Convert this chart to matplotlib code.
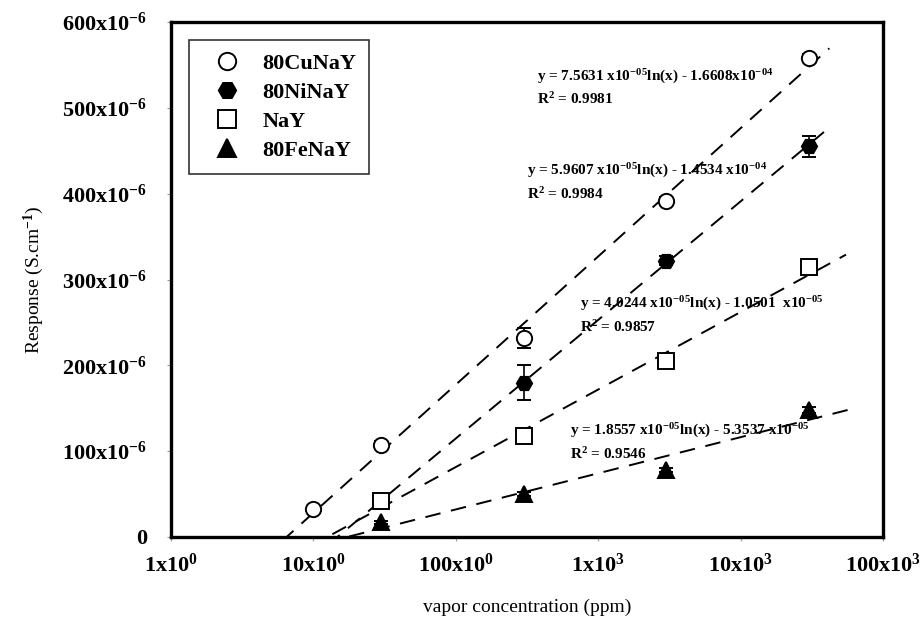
import matplotlib
matplotlib.use("Agg")
import matplotlib.pyplot as plt
from matplotlib.lines import Line2D
import numpy as np

# response values in units of 1e-6 S/cm
CU_CONC = [10, 30, 300, 3000, 30000]
CU_RESPONSE = [33, 107, 232, 392, 558]
CU_ERROR = [3, 5, 12, 4, 5]

NI_CONC = [30, 300, 3000, 30000]
NI_RESPONSE = [42, 180, 322, 455]
NI_ERROR = [3, 20, 5, 12]

NAY_CONC = [30, 300, 3000, 30000]
NAY_RESPONSE = [42, 118, 205, 314]
NAY_ERROR = [3, 4, 4, 5]

FE_CONC = [30, 300, 3000, 30000]
FE_RESPONSE = [17, 50, 78, 148]
FE_ERROR = [2, 2, 2, 3]

LABELS = ["80CuNaY", "80NiNaY", "NaY", "80FeNaY"]
EQUATIONS = [
    "y = 7.5631 x10$^{-05}$ln(x) - 1.6608x10$^{-04}$\nR$^{2}$ = 0.9981",
    "y = 5.9607 x10$^{-05}$ln(x) - 1.4534 x10$^{-04}$\nR$^{2}$ = 0.9984",
    "y = 4.0244 x10$^{-05}$ln(x) - 1.0501  x10$^{-05}$\nR$^{2}$ = 0.9857",
    "y = 1.8557 x10$^{-05}$ln(x) - 5.3537 x10$^{-05}$\nR$^{2}$ = 0.9546",
]
X_TICKS = [1, 10, 100, 1000, 10000, 100000]
X_TICK_LABELS = ["1x10$^{0}$", "10x10$^{0}$", "100x10$^{0}$",
                 "1x10$^{3}$", "10x10$^{3}$", "100x10$^{3}$"]
Y_TICKS = [0, 100, 200, 300, 400, 500, 600]
Y_TICK_LABELS = ["0"] + [f"{v}x10$^{{-6}}$" for v in Y_TICKS[1:]]

plt.rcParams["font.family"] = "Liberation Serif"
plt.rcParams["font.weight"] = "bold"
plt.rcParams["mathtext.fontset"] = "custom"
plt.rcParams["mathtext.rm"] = "Liberation Serif:bold"
plt.rcParams["mathtext.it"] = "Liberation Serif:italic:bold"
plt.rcParams["mathtext.bf"] = "Liberation Serif:bold"

fig = plt.figure(figsize=(9.21, 6.28), dpi=100)
ax = fig.add_axes([171 / 921, 1 - 537 / 628, 712 / 921, 515 / 628])
ax.set_xscale("log")
ax.set_xlim(1, 100000)
ax.set_ylim(0, 600)

series = [
    (CU_CONC, CU_RESPONSE, CU_ERROR, "o", "white", 4.2e4),
    (NI_CONC, NI_RESPONSE, NI_ERROR, "H", "black", 4.3e4),
    (NAY_CONC, NAY_RESPONSE, NAY_ERROR, "s", "white", 5.5e4),
    (FE_CONC, FE_RESPONSE, FE_ERROR, "^", "black", 6.0e4),
]

handles = []
for (conc, resp, err, marker, face, end), label in zip(series, LABELS):
    conc = np.array(conc, dtype=float)
    resp = np.array(resp, dtype=float)
    slope, intercept = np.polyfit(np.log(conc), resp, 1)
    xs = np.logspace(0, np.log10(end), 200)
    ax.plot(xs, slope * np.log(xs) + intercept, color="black", lw=1.4,
            dashes=(8, 5.5), zorder=2)
    ax.errorbar(conc, resp, yerr=err, fmt=marker, mfc=face, mec="black",
                mew=1.4, ms=11, ecolor="black", elinewidth=1.2, capsize=5,
                capthick=1.2, zorder=3)
    handles.append(Line2D([], [], ls="none", marker=marker, mfc=face,
                          mec="black", mew=1.4, ms=12.5, label=label))

eq_positions = [(372, 524), (316, 414), (745, 259), (634, 111)]
for (x, y), text in zip(eq_positions, EQUATIONS):
    ax.text(x, y, text, fontsize=11, va="center", ha="left", linespacing=1.45)

ax.set_xticks(X_TICKS)
ax.set_xticklabels(X_TICK_LABELS)
ax.xaxis.set_minor_locator(matplotlib.ticker.NullLocator())
ax.set_yticks(Y_TICKS)
ax.set_yticklabels(Y_TICK_LABELS)
ax.tick_params(axis="both", direction="out", length=3, width=0.8,
               color="#999999", labelsize=16, pad=9)
ax.tick_params(axis="y", pad=14)
for spine in ax.spines.values():
    spine.set_linewidth(2.4)

ax.set_xlabel("vapor concentration (ppm)", fontsize=14, labelpad=16)
ax.set_ylabel("Response (S.cm$^{-1}$)", fontsize=14, labelpad=12)

legend = ax.legend(handles=handles, loc="upper left",
                   bbox_to_anchor=(0.025, 0.965), borderaxespad=0,
                   fontsize=16, frameon=True, fancybox=False,
                   edgecolor="black", handletextpad=0.5, labelspacing=0.38,
                   borderpad=0.6, handlelength=2.2)
legend.get_frame().set_linewidth(1.2)

fig.savefig("out.png", dpi=100)
